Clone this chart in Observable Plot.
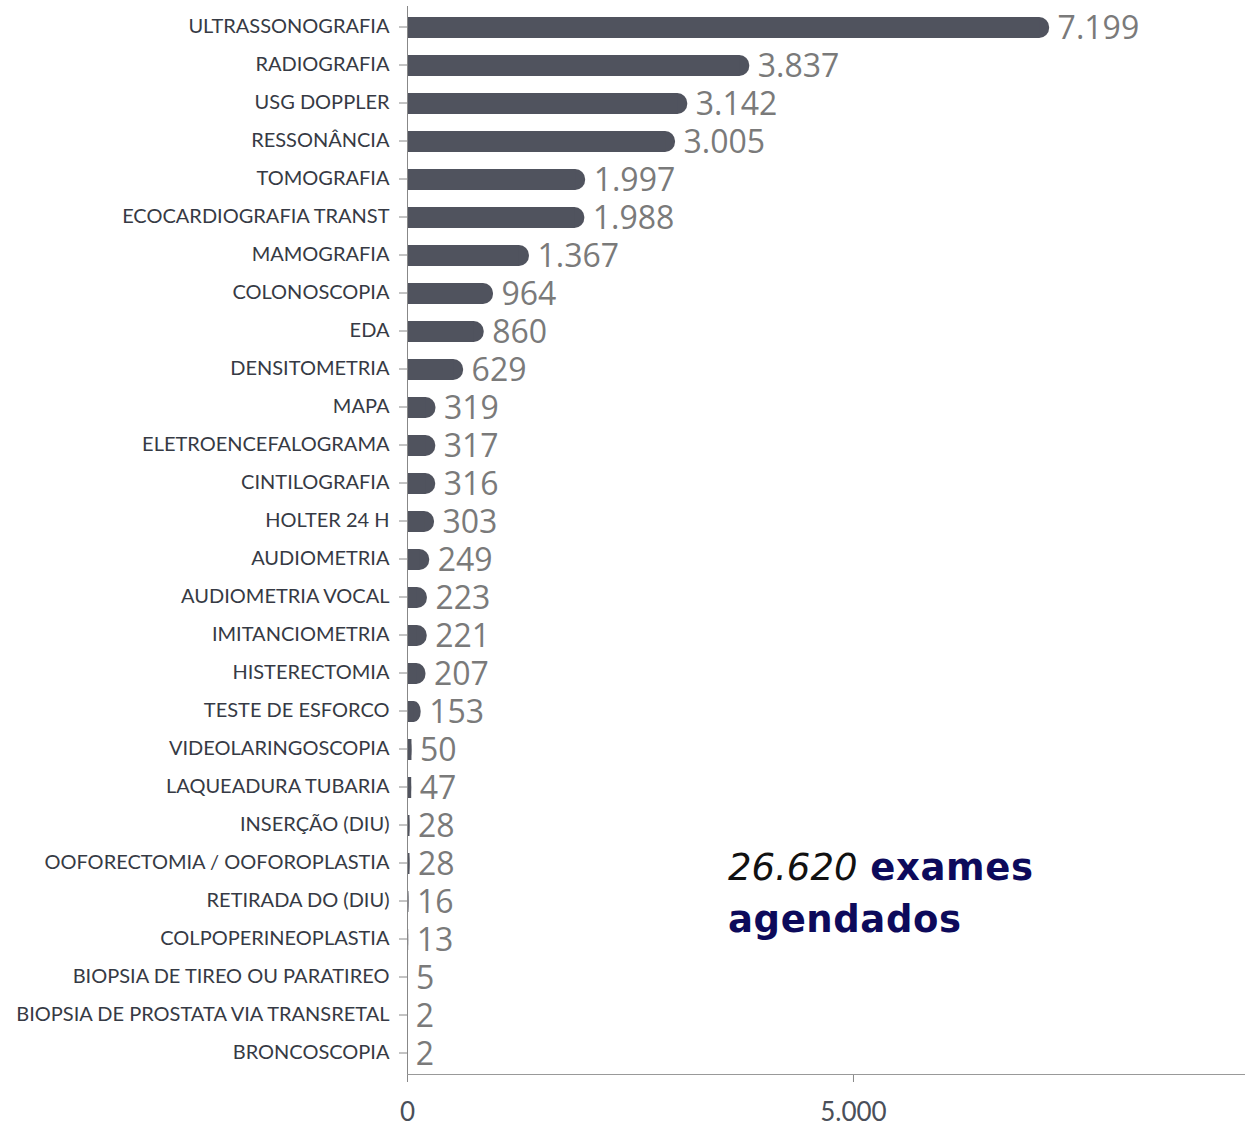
<!DOCTYPE html>
<html>
<head>
<meta charset="utf-8">
<script src="https://cdn.jsdelivr.net/npm/d3@7"></script>
<script src="https://cdn.jsdelivr.net/npm/@observablehq/plot@0.6"></script>
<style>
  html, body { margin: 0; padding: 0; background: #fff; }
  #wrap { position: relative; width: 1245px; height: 1126px; }
  #note { position: absolute; left: 728px; top: 842px; font-family: "DejaVu Sans", sans-serif; font-size: 37px; line-height: 52px; color: #0d0a5b; font-weight: 700; }
  #note .num { font-style: italic; font-weight: 400; color: #111; }
  #note .b { letter-spacing: 0.6px; }
</style>
</head>
<body>
<div id="wrap"><div id="note"><span class="num">26.620</span> <span class="b">exames</span><br><span class="b">agendados</span></div></div>
<script>
const categories = [
  "ULTRASSONOGRAFIA", "RADIOGRAFIA", "USG DOPPLER", "RESSONÂNCIA", "TOMOGRAFIA",
  "ECOCARDIOGRAFIA TRANST", "MAMOGRAFIA", "COLONOSCOPIA", "EDA", "DENSITOMETRIA",
  "MAPA", "ELETROENCEFALOGRAMA", "CINTILOGRAFIA", "HOLTER 24 H", "AUDIOMETRIA",
  "AUDIOMETRIA VOCAL", "IMITANCIOMETRIA", "HISTERECTOMIA", "TESTE DE ESFORCO",
  "VIDEOLARINGOSCOPIA", "LAQUEADURA TUBARIA", "INSERÇÃO (DIU)",
  "OOFORECTOMIA / OOFOROPLASTIA", "RETIRADA DO (DIU)", "COLPOPERINEOPLASTIA",
  "BIOPSIA DE TIREO OU PARATIREO", "BIOPSIA DE PROSTATA VIA TRANSRETAL", "BRONCOSCOPIA"
];
const values = [
  7199, 3837, 3142, 3005, 1997,
  1988, 1367, 964, 860, 629,
  319, 317, 316, 303, 249,
  223, 221, 207, 153,
  50, 47, 28,
  28, 16, 13,
  5, 2, 2
];
const xTicks = [0, 5000];

const data = categories.map((c, i) => ({name: c, value: values[i]}));
const loc = d3.formatLocale({decimal: ",", thousands: ".", grouping: [3], currency: ["R$", ""]});
const fmt = loc.format(",d");
const barColor = "#50535e";

const chart = Plot.plot({
  width: 1245,
  height: 1126,
  marginTop: 6,
  marginBottom: 52,
  marginLeft: 407,
  marginRight: 0,
  style: {fontFamily: "Lato, sans-serif", fontSize: "20px", background: "transparent"},
  x: {domain: [0, 9395], label: null},
  y: {domain: categories, paddingInner: 0.45, paddingOuter: 0.225, label: null},
  marks: [
    Plot.barX(data, {y: "name", x1: 0, x2: "value", fill: barColor, rx: 10}),
    Plot.barX(data, {y: "name", x1: 0, x2: d => d.value < 100 ? d.value : Math.max(d.value / 2, d.value - 112), fill: barColor}),
    Plot.text(data, {y: "name", x: "value", text: d => fmt(d.value), textAnchor: "start", dx: 8, dy: 1,
      fill: "#7a7a7a", fontSize: 32, fontFamily: "Open Sans, sans-serif"}),
    Plot.axisY({tickSize: 8, tickPadding: 10, fill: "#363a44", stroke: "#888", fontSize: 20, dy: -1}),
    Plot.axisX({ticks: xTicks, tickFormat: fmt, tickSize: 8, tickPadding: 20, fill: "#4a4f59", stroke: "#888", fontSize: 26}),
    Plot.ruleX([0], {stroke: "#888"}),
    Plot.frame({anchor: "bottom", stroke: "#999"})
  ]
});
document.getElementById("wrap").prepend(chart);
</script>
</body>
</html>
